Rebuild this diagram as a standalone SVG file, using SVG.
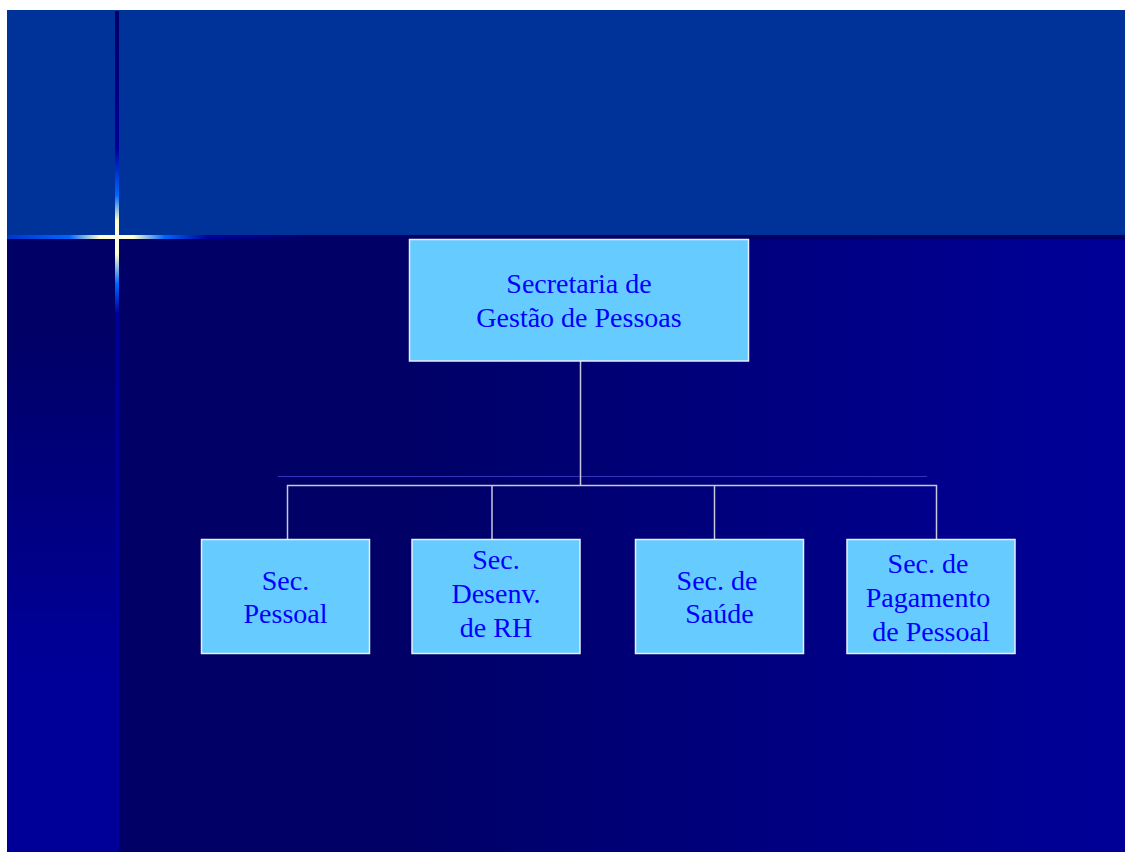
<svg xmlns="http://www.w3.org/2000/svg" width="1125" height="852" viewBox="0 0 1125 852">
  <defs>
    <linearGradient id="mainBg" x1="115" y1="0" x2="1125" y2="0" gradientUnits="userSpaceOnUse">
      <stop offset="0" stop-color="#000066"/>
      <stop offset="0.28" stop-color="#000066"/>
      <stop offset="1" stop-color="#000099"/>
    </linearGradient>
    <linearGradient id="stripBg" x1="0" y1="239" x2="0" y2="852" gradientUnits="userSpaceOnUse">
      <stop offset="0" stop-color="#000066"/>
      <stop offset="0.15" stop-color="#000066"/>
      <stop offset="0.7" stop-color="#000099"/>
      <stop offset="1" stop-color="#000099"/>
    </linearGradient>
    <linearGradient id="glowH" x1="7" y1="0" x2="1125" y2="0" gradientUnits="userSpaceOnUse">
      <stop offset="0" stop-color="#0033cc"/>
      <stop offset="0.056" stop-color="#0066ff"/>
      <stop offset="0.083" stop-color="#ffffcc"/>
      <stop offset="0.098" stop-color="#ffffee"/>
      <stop offset="0.113" stop-color="#ffffcc"/>
      <stop offset="0.141" stop-color="#0066ff"/>
      <stop offset="0.18" stop-color="#000099"/>
      <stop offset="0.27" stop-color="#000066"/>
      <stop offset="1" stop-color="#000066"/>
    </linearGradient>
    <linearGradient id="glowV" x1="0" y1="10" x2="0" y2="852" gradientUnits="userSpaceOnUse">
      <stop offset="0" stop-color="#000066"/>
      <stop offset="0.165" stop-color="#000099"/>
      <stop offset="0.22" stop-color="#0066ff"/>
      <stop offset="0.25" stop-color="#ffffcc"/>
      <stop offset="0.27" stop-color="#ffffee"/>
      <stop offset="0.29" stop-color="#ffffcc"/>
      <stop offset="0.325" stop-color="#0066ff"/>
      <stop offset="0.36" stop-color="#000099"/>
      <stop offset="1" stop-color="#000099"/>
    </linearGradient>
    <style>
      .box { fill: #66ccff; stroke: #e8eef8; stroke-width: 1.5; }
      .lbl { font-family: "Liberation Serif", "Times New Roman", serif; font-size: 28px; fill: #0000ff; text-anchor: middle; }
      .conn { fill: none; stroke: #c8c8dc; stroke-width: 1.5; }
    </style>
  </defs>

  <!-- page and slide background -->
  <rect x="0" y="0" width="1125" height="852" fill="#ffffff"/>
  <rect x="7" y="10" width="1118" height="225" fill="#003399"/>
  <rect x="115" y="239" width="1010" height="613" fill="url(#mainBg)"/>
  <rect x="7" y="239" width="108" height="613" fill="url(#stripBg)"/>

  <!-- glowing cross lines -->
  <rect x="7" y="235" width="1118" height="4" fill="url(#glowH)"/>
  <rect x="115" y="11" width="4" height="841" fill="url(#glowV)"/>

  <!-- faint guide line above the branch bar -->
  <line x1="278" y1="476.5" x2="927" y2="476.5" stroke="#3333bb" stroke-width="1"/>

  <!-- connectors -->
  <g id="connectors">
    <path class="conn" d="M580.5,361 V486"/>
    <path class="conn" d="M287.5,539 V485.5 H936.5 V539"/>
    <path class="conn" d="M492,485.5 V539"/>
    <path class="conn" d="M714.5,485.5 V539"/>
  </g>

  <g id="node-secretaria">
    <rect class="box" x="409.5" y="239.5" width="339" height="121.5"/>
    <text class="lbl" x="579" y="293">Secretaria de</text>
    <text class="lbl" x="579" y="327">Gestão de Pessoas</text>
  </g>

  <g id="node-pessoal">
    <rect class="box" x="201.5" y="539.5" width="168" height="114"/>
    <text class="lbl" x="285.5" y="590">Sec.</text>
    <text class="lbl" x="285.5" y="623">Pessoal</text>
  </g>

  <g id="node-desenv">
    <rect class="box" x="412" y="539.5" width="168" height="114"/>
    <text class="lbl" x="496" y="569">Sec.</text>
    <text class="lbl" x="496" y="603">Desenv.</text>
    <text class="lbl" x="496" y="637">de RH</text>
  </g>

  <g id="node-saude">
    <rect class="box" x="635.5" y="539.5" width="168" height="114"/>
    <text class="lbl" x="717" y="589.5">Sec. de</text>
    <text class="lbl" x="719.5" y="623">Saúde</text>
  </g>

  <g id="node-pagamento">
    <rect class="box" x="847" y="539.5" width="168" height="114"/>
    <text class="lbl" x="928" y="573">Sec. de</text>
    <text class="lbl" x="928" y="607">Pagamento</text>
    <text class="lbl" x="931" y="641">de Pessoal</text>
  </g>
</svg>
